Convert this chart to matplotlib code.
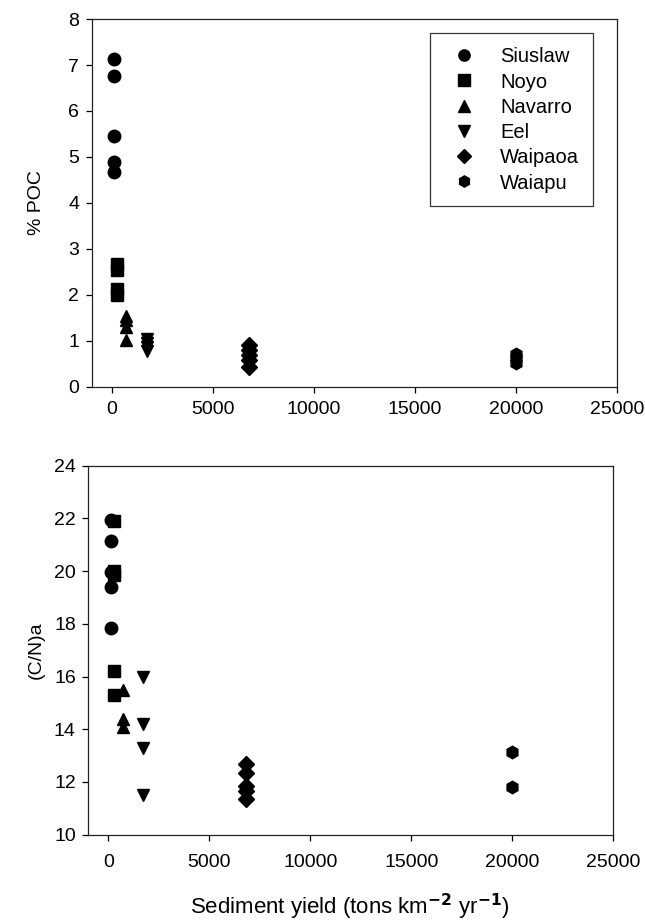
"""
%POC and (C/N)a against sediment yield for six rivers.
"""

import matplotlib.pyplot as plt
import numpy as np

plt.rcParams['font.family'] = ['Liberation Sans', 'DejaVu Sans']

rivers = ['Siuslaw', 'Noyo', 'Navarro', 'Eel', 'Waipaoa', 'Waiapu']
markers = ['o', 's', '^', 'v', 'D', 'h']

# sediment yield (tons km-2 yr-1) for each river
yield_poc = [100, 250, 700, 1730, 6800, 20000]
yield_cn = [100, 250, 700, 1730, 6800, 20000]

# % POC
poc = [
    [7.13, 6.76, 5.45, 4.88, 4.67],
    [2.67, 2.55, 2.12, 2.0],
    [1.54, 1.45, 1.31, 1.02],
    [1.03, 0.95, 0.87, 0.77],
    [0.91, 0.80, 0.69, 0.58, 0.42],
    [0.71, 0.62, 0.52],
]

# (C/N)a
cn = [
    [21.95, 21.15, 19.95, 19.4, 17.85],
    [21.9, 20.0, 19.85, 16.2, 15.3],
    [15.5, 14.4, 14.1],
    [16.0, 14.2, 13.3, 11.5],
    [12.7, 12.35, 11.85, 11.65, 11.35],
    [13.15, 11.8],
]

fs = 14.5
fs_tick = 14
ms = 9

fig = plt.figure(figsize=(6.45, 9.21), dpi=100)
ax1 = fig.add_axes([0.1422, 0.5801, 0.8144, 0.3992])
ax2 = fig.add_axes([0.1369, 0.0937, 0.8140, 0.4007])

for i, name in enumerate(rivers):
    size = ms * 0.85 if markers[i] == 'D' else ms
    ax1.plot(np.full(len(poc[i]), yield_poc[i]), poc[i], linestyle='none',
             marker=markers[i], color='black', markersize=size, label=name)
    ax2.plot(np.full(len(cn[i]), yield_cn[i]), cn[i], linestyle='none',
             marker=markers[i], color='black', markersize=size)

ax1.set_xlim(-1000, 25000)
ax1.set_ylim(0, 8)
ax1.set_xticks(np.arange(0, 25001, 5000))
ax1.set_yticks(np.arange(0, 9, 1))
ax1.set_ylabel('% POC', fontsize=14)
ax1.yaxis.set_label_coords(-0.088, 0.5)

ax2.set_xlim(-1000, 25000)
ax2.set_ylim(10, 24)
ax2.set_xticks(np.arange(0, 25001, 5000))
ax2.set_yticks(np.arange(10, 25, 2))
ax2.set_ylabel('(C/N)a', fontsize=14)
ax2.yaxis.set_label_coords(-0.082, 0.5)

for ax, xpad in [(ax1, 6), (ax2, 10)]:
    for sp in ax.spines.values():
        sp.set_linewidth(0.9)
        sp.set_color('#222222')
    ax.tick_params(direction='out', length=4, width=0.9, labelsize=fs_tick,
                   top=False, right=False)
    ax.tick_params(axis='x', pad=xpad)
    ax.tick_params(axis='y', pad=5)

# легенда растянута по ширине рамки как в оригинале
leg = ax1.legend(loc='upper left', bbox_to_anchor=(0.644, 0.5, 0.310, 0.461),
                 mode='expand', fontsize=fs, frameon=True, fancybox=False,
                 markerscale=0.9, handlelength=2.0, handletextpad=0.8,
                 borderpad=0.69, labelspacing=0.31, borderaxespad=0)
leg.get_frame().set_edgecolor('black')
leg.get_frame().set_linewidth(0.9)

fig.text(0.543, 0.0075, r'Sediment yield (tons km$^{\mathbf{-2}}$ yr$^{\mathbf{-1}}$)',
         fontsize=16, ha='center', va='baseline')

fig.savefig('out.png', dpi=100)
plt.close(fig)
